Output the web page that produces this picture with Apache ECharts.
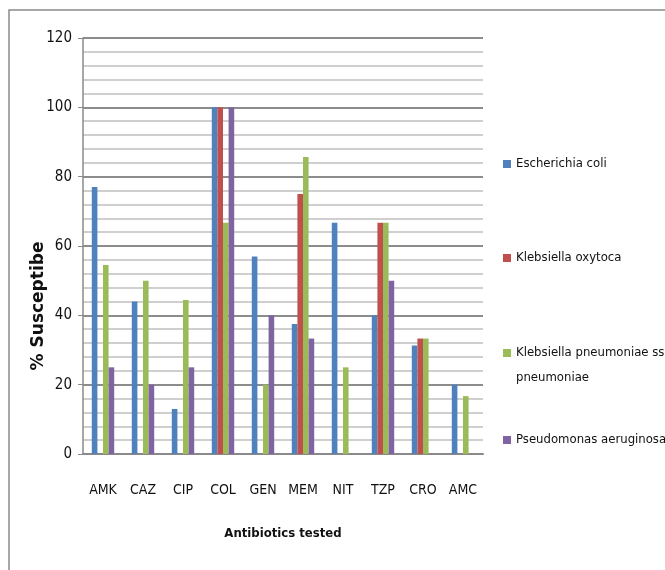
<!DOCTYPE html>
<html>
<head>
<meta charset="utf-8">
<script src="https://cdn.jsdelivr.net/npm/echarts@6/dist/echarts.min.js"></script>
<style>
html,body{margin:0;padding:0;background:#fff;}
#chart{width:665px;height:570px;}
</style>
</head>
<body>
<div id="chart"></div>
<script>
var categories = ['AMK', 'CAZ', 'CIP', 'COL', 'GEN', 'MEM', 'NIT', 'TZP', 'CRO', 'AMC'];
var seriesNames = ['Escherichia coli', 'Klebsiella oxytoca', 'Klebsiella pneumoniae ss. pneumoniae', 'Pseudomonas aeruginosa'];
var ecoli = [77, 44, 13, 100, 57, 37.5, 66.7, 40, 31.3, 20];
var koxytoca = [null, null, null, 100, null, 75, null, 66.7, 33.3, null];
var kpneumoniae = [54.5, 50, 44.4, 66.7, 20, 85.7, 25, 66.7, 33.3, 16.7];
var paeruginosa = [25, 20, 25, 100, 40, 33.3, null, 50, null, null];
var yTicks = [0, 20, 40, 60, 80, 100, 120];

var colors = ['#4F81BD', '#C0504D', '#9BBB59', '#8064A2'];

// pick an installed condensed font if there is one
function hasFont(name) {
  var c = document.createElement('canvas').getContext('2d');
  var s = 'Escherichia coli AMK 0123456789';
  c.font = '20px monospace'; var w1 = c.measureText(s).width;
  c.font = "20px '" + name + "', monospace"; var w2 = c.measureText(s).width;
  return Math.abs(w1 - w2) > 0.5;
}
var candidates = ['Liberation Sans Narrow', 'DejaVu Sans Condensed', 'Arial Narrow', 'Roboto Condensed'];
var narrow = null;
for (var i = 0; i < candidates.length; i++) { if (hasFont(candidates[i])) { narrow = candidates[i]; break; } }
var FONT = narrow ? "'" + narrow + "', sans-serif" : "Roboto, sans-serif";
var SCALE = narrow ? 1 : 0.9;

var chart = echarts.init(document.getElementById('chart'), null, {renderer: 'canvas'});

function mkLegend(i, top, extra) {
  var l = {
    orient: 'vertical',
    left: 503,
    top: top,
    padding: 0,
    itemWidth: 8,
    itemHeight: 8,
    itemGap: 0,
    icon: 'rect',
    selectedMode: false,
    data: [seriesNames[i]],
    textStyle: {fontFamily: FONT, fontSize: Math.round(13 * SCALE), color: '#111', lineHeight: 18}
  };
  if (extra) { for (var k in extra) l[k] = extra[k]; }
  return l;
}

var option = {
  animation: false,
  color: colors,
  grid: {left: 83, right: 182, top: 38, bottom: 116, containLabel: false},
  graphic: [
    {type: 'rect', shape: {x: 9, y: 10, width: 700, height: 620}, style: {fill: 'none', stroke: '#8a8a8a', lineWidth: 1.5}, silent: true},
    {type: 'text', x: 39, y: 306, rotation: Math.PI / 2,
     style: {text: '% Susceptibe', font: "bold 17px 'DejaVu Sans'", fill: '#111', align: 'center', verticalAlign: 'middle'}}
  ],
  legend: [
    mkLegend(0, 155),
    mkLegend(1, 249),
    mkLegend(2, 315.5, {
      formatter: function () { return '\nKlebsiella pneumoniae ss.\npneumoniae'; },
      textStyle: {fontFamily: FONT, fontSize: Math.round(13 * SCALE), color: '#111', lineHeight: 25}
    }),
    mkLegend(3, 431)
  ],
  xAxis: {
    type: 'category',
    data: categories,
    name: 'Antibiotics tested',
    nameLocation: 'middle',
    nameGap: 73,
    nameTextStyle: {fontFamily: FONT, fontSize: Math.round(13 * SCALE), fontWeight: 'bold', color: '#111'},
    axisLine: {lineStyle: {color: '#8a8a8a', width: 2}},
    axisTick: {show: false},
    axisLabel: {fontFamily: FONT, fontSize: Math.round(14 * SCALE), color: '#111', margin: 29, interval: 0},
    splitLine: {show: false}
  },
  yAxis: {
    type: 'value',
    min: yTicks[0],
    max: yTicks[yTicks.length - 1],
    interval: 20,
    axisLine: {show: true, lineStyle: {color: '#8a8a8a', width: 1.5}},
    axisTick: {show: true, length: 5, lineStyle: {color: '#8a8a8a'}},
    axisLabel: {fontFamily: FONT, fontSize: Math.round(15 * SCALE), color: '#111', margin: 11},
    splitLine: {show: true, lineStyle: {color: '#8c8c8c', width: 2}},
    minorTick: {show: false, splitNumber: 5},
    minorSplitLine: {show: true, lineStyle: {color: '#cfcfcf', width: 2}}
  },
  series: [
    {name: seriesNames[0], type: 'bar', data: ecoli, barGap: '0%', barCategoryGap: '44%'},
    {name: seriesNames[1], type: 'bar', data: koxytoca, barGap: '0%', barCategoryGap: '44%'},
    {name: seriesNames[2], type: 'bar', data: kpneumoniae, barGap: '0%', barCategoryGap: '44%'},
    {name: seriesNames[3], type: 'bar', data: paeruginosa, barGap: '0%', barCategoryGap: '44%'}
  ]
};
chart.setOption(option);
</script>
</body>
</html>
